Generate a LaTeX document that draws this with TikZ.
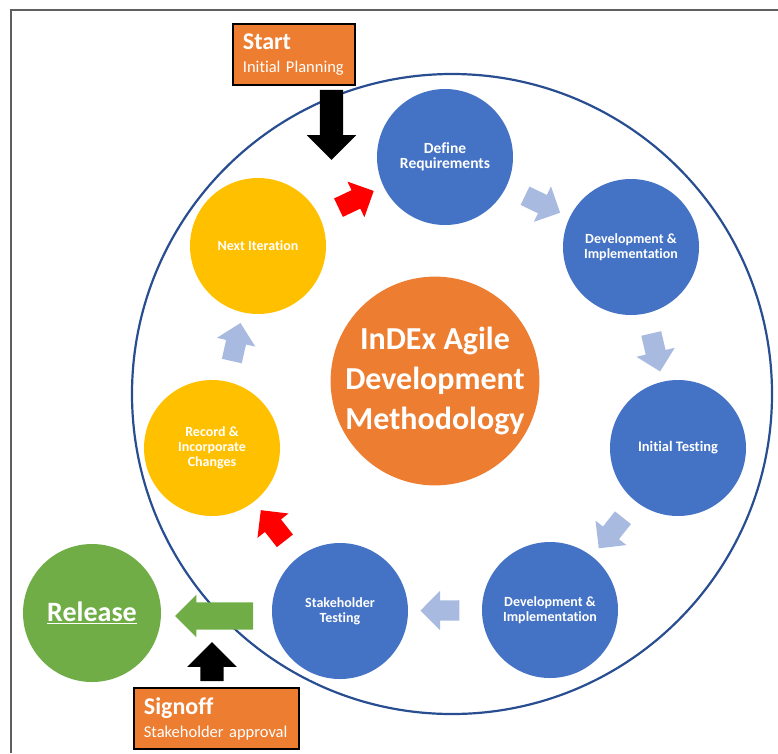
\documentclass[tikz,border=0pt]{standalone}
\usepackage{fontspec}
\setmainfont{Carlito}[Ligatures=NoCommon]
\usepackage{tikz}
\usetikzlibrary{calc}
\usetikzlibrary{positioning}
\usetikzlibrary{shapes.arrows}
\definecolor{stepblue}{RGB}{68, 114, 196}
\definecolor{coreorange}{RGB}{237, 125, 49}
\definecolor{loopyellow}{RGB}{255, 192, 0}
\definecolor{releasegreen}{RGB}{112, 173, 71}
\definecolor{flowblue}{RGB}{169, 186, 224}
\definecolor{flowred}{RGB}{255, 0, 0}
\definecolor{ringblue}{RGB}{40, 78, 145}
\definecolor{framegray}{RGB}{95, 95, 95}

\tikzset{
  phase/.style={circle, fill=stepblue, text=white, minimum size=136pt, inner sep=0pt,
                align=center, font=\fontsize{14}{15}\selectfont\bfseries},
  loopphase/.style={phase, fill=loopyellow},
  flowarrow/.style={single arrow, draw=none, minimum height=39pt, inner xsep=8pt,
                    inner ysep=10pt, single arrow head extend=9.5pt},
  gatearrow/.style={single arrow, draw=none, fill=black, inner xsep=4pt,
                    inner ysep=11.5pt, single arrow head extend=13pt},
  stagebox/.style={draw=black, line width=1.8pt, fill=coreorange, text=white, align=left,
                   anchor=north west, inner xsep=10pt, inner ysep=0pt, minimum height=61pt,
                   font=\fontsize{16.5}{23}\selectfont}
}

\begin{document}
\begin{tikzpicture}[x=1pt, y=-1pt]
            \useasboundingbox (0,0) rectangle (778,753);
            \draw[framegray, line width=2pt] (11,753) -- (11,10) -- (778,10);
            \draw[ringblue, line width=2.2pt] (452,394) circle (320pt);

            \node[phase, font=\fontsize{15.5}{15.5}\selectfont\bfseries] (dr)  at (445,157) {Define\\Requirements};
            \node[phase]                                                (di1) at (631,247) {Development \&\\Implementation};
            \node[phase, font=\fontsize{14.5}{15}\selectfont\bfseries]  (it)  at (678,448) {Initial Testing};
            \node[phase]                                                (di2) at (550,610) {Development \&\\Implementation};
            \node[phase]                                                (st)  at (340,611) {Stakeholder\\Testing};
            \node[loopphase]                                            (rc)  at (212,448) {Record \&\\Incorporate\\Changes};
            \node[loopphase]                                            (ni)  at (258,246) {Next Iteration};

            \node[circle, fill=coreorange, text=white, minimum size=206pt, inner sep=0pt, align=center,
                  font=\fontsize{32}{40}\selectfont\bfseries] (core) at (435,381) {InDEx Agile\\Development\\Methodology};
            \node[circle, fill=releasegreen, text=white, minimum size=138pt, inner sep=0pt,
                  font=\fontsize{28}{30}\selectfont\bfseries] (rel) at (92,613) {\underline{Release}};

            \foreach \src/\dst/\col in {dr/di1/flowblue, di1/it/flowblue, it/di2/flowblue, di2/st/flowblue,
                                        st/rc/flowred, rc/ni/flowblue, ni/dr/flowred}
                \path let \p1 = ($(\dst)-(\src)$), \n1 = {atan2(\y1,\x1)} in
                    node[flowarrow, fill=\col, rotate=\n1] (\src-arrow) at ($(\src)!0.5!(\dst)$) {};

            \node[single arrow, draw=none, fill=releasegreen, minimum height=78pt, inner xsep=4pt,
                  inner ysep=13.5pt, single arrow head extend=7.5pt, rotate=180] (go) at (221,616) {};

            \node[stagebox, text width=102pt] (start) at (232,23)
                 {{\fontsize{24}{23}\selectfont\bfseries Start}\\Initial Planning};
            \node[gatearrow, minimum height=70pt, rotate=-90] (down) at (331.5,119) {};

            \node[stagebox, text width=145pt] (signoff) at (133,687)
                 {{\fontsize{24}{23}\selectfont\bfseries Signoff}\\Stakeholder approval};
            \node[gatearrow, minimum height=39pt, rotate=90] (up) at (212,667.5) {};
            \end{tikzpicture}
\end{document}
